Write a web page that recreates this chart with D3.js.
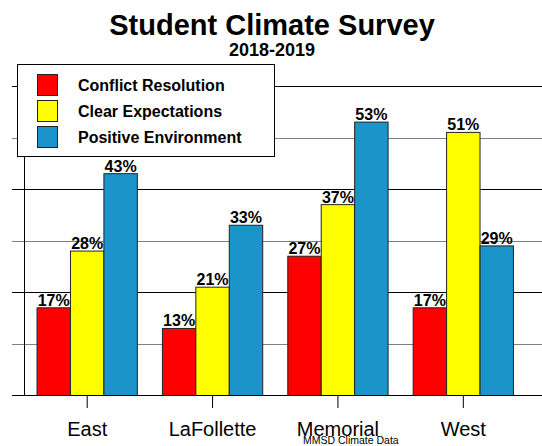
<!DOCTYPE html>
<html>
<head>
<meta charset="utf-8">
<script src="https://cdn.jsdelivr.net/npm/d3@7"></script>
<style>
  body { margin: 0; background: #fff; }
  svg { font-family: "Liberation Sans", Arial, sans-serif; }
</style>
</head>
<body>
<div id="viz"></div>
<script>
// chart values
var schools = ["East", "LaFollette", "Memorial", "West"];
var seriesNames = ["Conflict Resolution", "Clear Expectations", "Positive Environment"];
var conflictResolution = [17, 13, 27, 17];
var clearExpectations = [28, 21, 37, 51];
var positiveEnvironment = [43, 33, 53, 29];
var yTicks = [10, 20, 30, 40, 50, 60];
var colors = ["#ff0000", "#ffff00", "#1a94c9"];

var width = 542, height = 446;
var margin = {top: 86, right: 16, bottom: 50.5, left: 24.5};

var series = [conflictResolution, clearExpectations, positiveEnvironment];
var data = schools.map(function(s, i) {
  return {school: s, values: series.map(function(v, j) { return {key: seriesNames[j], value: v[i], idx: j}; })};
});

var svg = d3.select('#viz').append('svg')
  .attr('width', width)
  .attr('height', height);

// scales
var x = d3.scaleBand()
  .domain(schools)
  .range([margin.left, width - margin.right])
  .paddingInner(0.2)
  .paddingOuter(0.1);

var x1 = d3.scaleBand()
  .domain(seriesNames)
  .range([0, x.bandwidth()]);

var y = d3.scaleLinear()
  .domain([0, 60])
  .range([height - margin.bottom, margin.top]);

// gridlines (extend left as tick marks)
svg.append('g')
  .selectAll('line')
  .data(yTicks)
  .join('line')
  .attr('x1', 12)
  .attr('x2', width)
  .attr('y1', d => Math.round(y(d)) + 0.5)
  .attr('y2', d => Math.round(y(d)) + 0.5)
  .attr('stroke', d => (d % 20 === 0) ? '#000' : '#808080')
  .attr('stroke-width', 1);

// left axis line
svg.append('line')
  .attr('x1', margin.left).attr('x2', margin.left)
  .attr('y1', y(60)).attr('y2', y(0))
  .attr('stroke', '#000');

// bars
var groups = svg.append('g')
  .selectAll('g')
  .data(data)
  .join('g')
  .attr('transform', d => 'translate(' + x(d.school) + ',0)');

groups.selectAll('rect')
  .data(d => d.values)
  .join('rect')
  .attr('x', d => x1(d.key))
  .attr('y', d => y(d.value))
  .attr('width', x1.bandwidth())
  .attr('height', d => y(0) - y(d.value))
  .attr('fill', d => colors[d.idx])
  .attr('stroke', '#222')
  .attr('stroke-width', 1);

groups.selectAll('text')
  .data(d => d.values)
  .join('text')
  .attr('x', d => x1(d.key) + x1.bandwidth() / 2)
  .attr('y', d => y(d.value) - 2)
  .attr('text-anchor', 'middle')
  .attr('font-size', 16)
  .attr('font-weight', 'bold')
  .text(d => d.value + '%');

// baseline + x axis
var xAxis = d3.axisBottom(x).tickSize(12.5).tickSizeOuter(0).tickPadding(14);
var gx = svg.append('g')
  .attr('transform', 'translate(0,' + y(0) + ')')
  .call(xAxis);
gx.select('.domain').remove();
gx.selectAll('text').attr('font-size', 20).attr('font-family', '"Liberation Sans", Arial, sans-serif').attr('fill', '#000');
gx.selectAll('line').attr('stroke', '#000');

svg.append('line')
  .attr('x1', 12).attr('x2', width)
  .attr('y1', y(0)).attr('y2', y(0))
  .attr('stroke', '#000');

// legend
var legend = svg.append('g');
legend.append('rect')
  .attr('x', 17.5).attr('y', 64.5)
  .attr('width', 257).attr('height', 92)
  .attr('fill', '#fff')
  .attr('stroke', '#000');

var items = legend.selectAll('g')
  .data(seriesNames)
  .join('g')
  .attr('transform', (d, i) => 'translate(37,' + (74 + i * 26) + ')');

items.append('rect')
  .attr('x', 0.5).attr('y', 0.5)
  .attr('width', 20).attr('height', 21)
  .attr('fill', (d, i) => colors[i])
  .attr('stroke', '#222');

items.append('text')
  .attr('x', 41)
  .attr('y', 17)
  .attr('font-size', 16)
  .attr('font-weight', 'bold')
  .text(d => d);

// titles
svg.append('text')
  .attr('x', 272).attr('y', 35)
  .attr('text-anchor', 'middle')
  .attr('font-size', 29)
  .attr('font-weight', 'bold')
  .text('Student Climate Survey');

svg.append('text')
  .attr('x', 272).attr('y', 56)
  .attr('text-anchor', 'middle')
  .attr('font-size', 18)
  .attr('font-weight', 'bold')
  .text('2018-2019');

svg.append('text')
  .attr('x', 303).attr('y', 444)
  .attr('font-size', 10.5)
  .text('MMSD Climate Data');
</script>
</body>
</html>
